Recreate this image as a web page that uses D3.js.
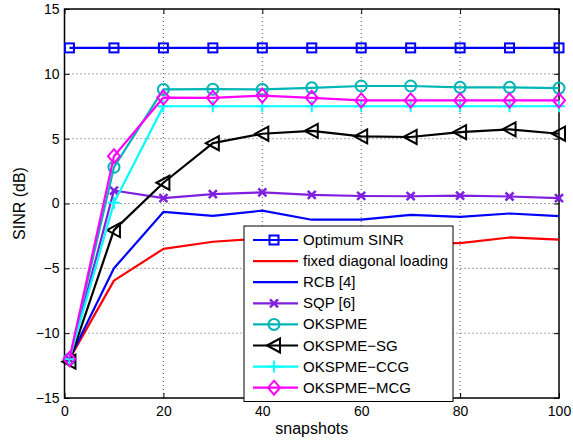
<!DOCTYPE html>
<html><head><meta charset="utf-8">
<script src="https://cdn.jsdelivr.net/npm/d3@7"></script>
<style>
body{margin:0;background:#fff;}
text{font-family:"Liberation Sans",Arial,sans-serif;}
</style></head>
<body><svg id="c" width="573" height="440"></svg>
<script>
const snapshots = [1,10,20,30,40,50,60,70,80,90,100];
const optimum = [12,12,12,12,12,12,12,12,12,12,12];
const fixedDL = [-12,-5.95,-3.5,-2.95,-2.7,-2.9,-3.0,-3.05,-3.05,-2.62,-2.78];
const rcb = [-12,-5.0,-0.65,-0.95,-0.55,-1.25,-1.25,-0.88,-1.03,-0.77,-0.98];
const sqp = [-12,1.0,0.42,0.72,0.86,0.66,0.58,0.56,0.6,0.54,0.42];
const okspme = [-12,2.8,8.8,8.82,8.8,8.92,9.06,9.06,8.96,8.96,8.9];
const okspmeSG = [-12.2,-2.05,1.6,4.65,5.38,5.6,5.18,5.13,5.5,5.72,5.38];
const okspmeCCG = [-12,0.05,7.5,7.5,7.5,7.5,7.5,7.5,7.5,7.5,7.5];
const okspmeMCG = [-12,3.65,8.17,8.15,8.32,8.15,7.95,7.95,7.95,7.95,7.95];
const xTicks = [0,20,40,60,80,100];
const yTicks = [-15,-10,-5,0,5,10,15];
const seriesNames = ["Optimum SINR","fixed diagonal loading","RCB [4]","SQP [6]","OKSPME","OKSPME\u2212SG","OKSPME\u2212CCG","OKSPME\u2212MCG"];

const series = [
  {name:seriesNames[0], values:optimum, color:"#0000ff", marker:"square"},
  {name:seriesNames[1], values:fixedDL, color:"#ff0000", marker:null},
  {name:seriesNames[2], values:rcb, color:"#0000ff", marker:null},
  {name:seriesNames[3], values:sqp, color:"#7f1fe0", marker:"x"},
  {name:seriesNames[4], values:okspme, color:"#00b5b5", marker:"circle"},
  {name:seriesNames[5], values:okspmeSG, color:"#000000", marker:"tri"},
  {name:seriesNames[6], values:okspmeCCG, color:"#00ffff", marker:"plus"},
  {name:seriesNames[7], values:okspmeMCG, color:"#ff00ff", marker:"diamond"}
];

const L=64.5, R=559, T=9, B=398;
const svg = d3.select("#c");
const x = d3.scaleLinear().domain([0,100]).range([L,R]);
const y = d3.scaleLinear().domain([-15,15]).range([B,T]);

// grid
const g = svg.append("g");
g.selectAll(".gx").data(xTicks.slice(1,-1)).enter().append("line")
 .attr("x1",d=>x(d)).attr("x2",d=>x(d)).attr("y1",T).attr("y2",B)
 .attr("stroke","#555").attr("stroke-width",1).attr("stroke-dasharray","1,3");
g.selectAll(".gy").data(yTicks.slice(1,-1)).enter().append("line")
 .attr("y1",d=>y(d)).attr("y2",d=>y(d)).attr("x1",L).attr("x2",R)
 .attr("stroke","#555").attr("stroke-width",1).attr("stroke-dasharray","1,3");

// axes
const xAx = svg.append("g").attr("transform",`translate(0,${B})`)
  .call(d3.axisBottom(x).tickValues(xTicks).tickSize(-5).tickPadding(8).tickFormat(d3.format("d")));
const yAx = svg.append("g").attr("transform",`translate(${L},0)`)
  .call(d3.axisLeft(y).tickValues(yTicks).tickSize(-5).tickPadding(5).tickFormat(d=>d<0?"\u2212"+Math.abs(d):d));
const xAxT = svg.append("g").attr("transform",`translate(0,${T})`)
  .call(d3.axisTop(x).tickValues(xTicks).tickSize(-5).tickFormat(""));
const yAxR = svg.append("g").attr("transform",`translate(${R},0)`)
  .call(d3.axisRight(y).tickValues(yTicks).tickSize(-5).tickFormat(""));
[xAx,yAx,xAxT,yAxR].forEach(a=>{
  a.select(".domain").remove();
  a.selectAll("line").attr("stroke","#000");
  a.selectAll("text").attr("font-size",14).attr("fill","#000").attr("font-family","Liberation Sans, Arial, sans-serif");
});
svg.append("rect").attr("x",L).attr("y",T).attr("width",R-L).attr("height",B-T)
  .attr("fill","none").attr("stroke","#000").attr("stroke-width",1.5);

// labels
svg.append("text").attr("x",(L+R)/2).attr("y",434).attr("text-anchor","middle")
  .attr("font-size",16).text("snapshots");
svg.append("text").attr("transform",`translate(25,${(T+B)/2}) rotate(-90)`).attr("text-anchor","middle")
  .attr("font-size",16).text("SINR (dB)");

function marker(sel, type, color){
  if(type==="square"){
    sel.append("rect").attr("x",-4.5).attr("y",-4.5).attr("width",9).attr("height",9)
      .attr("fill","none").attr("stroke",color).attr("stroke-width",2);
  } else if(type==="circle"){
    sel.append("circle").attr("r",5.5).attr("fill","none").attr("stroke",color).attr("stroke-width",2);
  } else if(type==="diamond"){
    sel.append("path").attr("d","M0,-7L6,0L0,7L-6,0Z").attr("fill","none").attr("stroke",color).attr("stroke-width",2);
  } else if(type==="tri"){
    sel.append("path").attr("d","M-7,0L6,-7L6,7Z").attr("fill","none").attr("stroke",color).attr("stroke-width",2);
  } else if(type==="x"){
    sel.append("path").attr("d","M-4,-4L4,4M-4,4L4,-4").attr("stroke",color).attr("stroke-width",2.5);
  } else if(type==="plus"){
    sel.append("path").attr("d","M-6,0L6,0M0,-6L0,6").attr("stroke",color).attr("stroke-width",2);
  }
}

const line = d3.line().x((d,i)=>x(snapshots[i])).y(d=>y(d));
const plot = svg.append("g");
series.forEach(s=>{
  const sg = plot.append("g");
  sg.append("path").datum(s.values).attr("d",line).attr("fill","none")
    .attr("stroke",s.color).attr("stroke-width",2.2).attr("stroke-linejoin","round");
  if(s.marker){
    s.values.forEach((v,i)=>{
      const m = sg.append("g").attr("transform",`translate(${x(snapshots[i])},${y(v)})`);
      marker(m,s.marker,s.color);
    });
  }
});

// legend
const lg = svg.append("g");
lg.append("rect").attr("x",244).attr("y",226).attr("width",209).attr("height",175.5)
  .attr("fill","#fff").attr("stroke","#000").attr("stroke-width",1);
series.forEach((s,i)=>{
  const yy = 240 + i*21.1;
  lg.append("line").attr("x1",253).attr("x2",298).attr("y1",yy).attr("y2",yy)
    .attr("stroke",s.color).attr("stroke-width",2.2);
  if(s.marker){
    const m = lg.append("g").attr("transform",`translate(274,${yy})`);
    marker(m,s.marker,s.color);
  }
  lg.append("text").attr("x",303).attr("y",yy+5).attr("font-size",15).text(s.name);
});
</script></body></html>
